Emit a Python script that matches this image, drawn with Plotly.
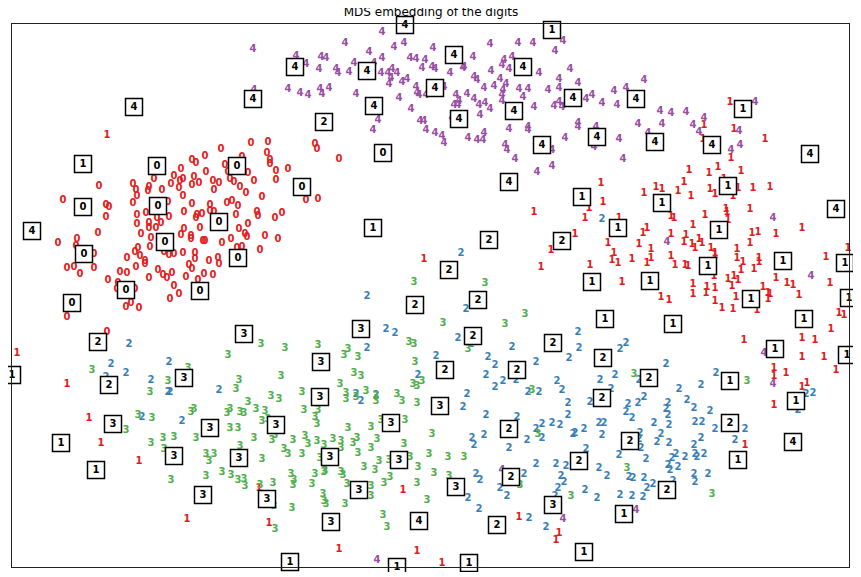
import plotly.graph_objects as go

# MDS coordinates of each digit sample
zero_x = [239, 256, 209, 255, 193, 180, 184, 230, 258, 258, 276, 213, 169, 194, 216, 236, 264, 142, 162, 182,
          201, 207, 218, 222, 242, 264, 87, 121, 124, 136, 137, 125, 150, 159, 168, 171, 167, 180, 187, 202,
          228, 234, 250, 171, 51, 121, 94, 97, 156, 180, 198, 215, 220, 226, 94, 125, 134, 145, 157, 172,
          184, 185, 190, 198, 202, 224, 245, 246, 263, 270, 125, 137, 137, 144, 149, 172, 188, 236, 227, 86,
          129, 139, 169, 179, 179, 191, 193, 210, 219, 233, 235, 253, 266, 46, 65, 64, 126, 138, 123, 152,
          157, 162, 171, 183, 183, 225, 230, 248, 206, 207, 197, 115, 128, 133, 133, 124, 82, 55, 62, 68,
          82, 177, 180, 108, 115, 146, 160, 151, 155, 174, 192, 201, 186, 137, 96, 106, 105, 123, 162, 167,
          158, 119, 114, 127, 55, 95, 303, 305, 327, 294, 306]
zero_y = [424, 425, 418, 414, 411, 407, 404, 410, 407, 403, 398, 402, 398, 395, 395, 394, 396, 388, 391, 390,
          386, 384, 388, 385, 386, 387, 381, 383, 377, 376, 380, 371, 377, 383, 386, 388, 379, 382, 384, 377,
          380, 374, 370, 371, 367, 364, 362, 360, 365, 363, 362, 364, 366, 361, 350, 352, 354, 349, 350, 355,
          349, 352, 353, 356, 355, 352, 355, 351, 349, 354, 343, 344, 339, 339, 344, 338, 339, 343, 338, 334,
          333, 329, 332, 331, 328, 326, 326, 324, 328, 333, 330, 331, 328, 324, 328, 321, 319, 320, 315, 315,
          312, 313, 314, 314, 308, 319, 320, 317, 309, 303, 306, 309, 311, 306, 303, 300, 313, 299, 300, 293,
          299, 302, 298, 295, 294, 297, 294, 292, 289, 290, 293, 292, 287, 289, 287, 284, 278, 278, 281, 273,
          268, 264, 260, 259, 250, 235, 423, 418, 408, 367, 368]

one_x = [95, 5, 55, 77, 89, 127, 175, 257, 247, 391, 327, 405, 430, 412, 522, 539, 529, 563, 507, 547,
         544, 692, 691, 718, 722, 753, 719, 677, 697, 706, 729, 712, 698, 703, 726, 741, 758, 721, 589, 591,
         577, 632, 644, 650, 666, 672, 679, 714, 738, 573, 607, 596, 602, 600, 606, 578, 610, 620, 627, 631,
         635, 639, 639, 635, 659, 659, 663, 659, 662, 672, 674, 673, 676, 681, 680, 683, 687, 690, 693, 699,
         703, 703, 715, 716, 740, 746, 738, 764, 790, 725, 725, 731, 729, 742, 747, 747, 702, 716, 722, 726,
         720, 681, 681, 695, 694, 703, 703, 710, 721, 724, 745, 751, 756, 758, 756, 764, 775, 781, 787, 818,
         814, 836, 827, 832, 819, 649, 657, 732, 790, 803, 790, 812, 824, 762, 762, 774, 790, 795, 762, 733]
one_y = [432, 214, 183, 149, 124, 106, 48, 44, 79, 77, 18, 16, 4, 308, 355, 317, 300, 333, 50, 34,
         27, 442, 428, 465, 438, 428, 409, 397, 394, 400, 396, 388, 378, 373, 379, 379, 380, 371, 384, 365,
         359, 374, 380, 378, 376, 385, 371, 358, 358, 349, 349, 324, 314, 307, 304, 302, 285, 308, 323, 334,
         339, 318, 309, 304, 333, 311, 302, 351, 349, 325, 332, 302, 301, 342, 323, 319, 328, 324, 352, 319,
         314, 312, 355, 347, 334, 335, 324, 333, 339, 318, 309, 305, 297, 298, 309, 305, 291, 288, 291, 287,
         281, 283, 273, 280, 274, 279, 266, 259, 258, 270, 257, 280, 274, 273, 268, 289, 284, 282, 272, 284,
         310, 319, 254, 252, 238, 270, 267, 227, 229, 227, 210, 210, 197, 199, 191, 194, 180, 184, 162, 122]

two_x = [117, 99, 157, 114, 94, 139, 207, 156, 158, 130, 170, 449, 355, 454, 374, 383, 446, 459, 355, 500,
         557, 424, 476, 483, 524, 406, 474, 483, 491, 504, 545, 550, 516, 527, 344, 364, 455, 349, 451, 474,
         505, 556, 556, 524, 530, 540, 548, 530, 561, 460, 462, 472, 515, 497, 464, 468, 512, 488, 495, 456,
         467, 524, 544, 554, 549, 552, 546, 543, 517, 534, 599, 578, 667, 794, 801, 786, 616, 614, 626, 632,
         620, 656, 654, 656, 675, 682, 698, 587, 592, 563, 572, 590, 628, 642, 657, 649, 645, 657, 683, 690,
         689, 682, 703, 733, 723, 574, 607, 629, 627, 634, 660, 664, 673, 683, 685, 692, 656, 658, 666, 587,
         595, 617, 621, 632, 635, 641, 682, 683, 696, 573, 585, 608, 620, 631, 661, 590, 566, 567, 608, 614,
         588, 603, 627, 654, 689, 704]
two_y = [223, 203, 205, 194, 190, 187, 177, 175, 175, 150, 146, 314, 271, 258, 238, 234, 229, 223, 219, 220,
         209, 211, 210, 202, 205, 192, 192, 180, 186, 187, 186, 177, 175, 175, 173, 172, 173, 166, 160, 152,
         150, 164, 152, 138, 143, 144, 142, 129, 133, 129, 122, 132, 127, 119, 93, 87, 93, 79, 71, 69,
         58, 103, 103, 101, 91, 85, 79, 71, 49, 40, 178, 165, 178, 173, 174, 157, 163, 155, 164, 170,
         149, 164, 158, 152, 167, 159, 156, 144, 144, 134, 138, 132, 134, 144, 142, 133, 125, 124, 145, 145,
         129, 122, 138, 138, 127, 118, 112, 119, 128, 108, 109, 113, 110, 113, 110, 113, 102, 97, 100, 99,
         91, 90, 89, 89, 79, 83, 93, 85, 93, 77, 69, 72, 71, 70, 86, 348, 235, 219, 218, 224,
         187, 192, 187, 203, 182, 194]

three_x = [249, 273, 216, 80, 176, 156, 227, 224, 269, 138, 259, 236, 267, 114, 126, 140, 179, 182, 215, 218,
           228, 232, 244, 253, 250, 256, 218, 226, 139, 151, 162, 184, 152, 242, 260, 263, 228, 194, 202, 197,
           250, 272, 276, 159, 194, 210, 219, 226, 232, 233, 248, 261, 262, 263, 402, 473, 513, 431, 493, 456,
           306, 336, 332, 346, 397, 402, 403, 342, 349, 401, 405, 410, 520, 328, 290, 334, 354, 385, 334, 344,
           364, 364, 390, 405, 526, 292, 306, 303, 305, 369, 393, 336, 359, 420, 281, 293, 296, 305, 312, 321,
           329, 329, 341, 345, 359, 365, 392, 290, 308, 346, 367, 377, 398, 417, 436, 452, 406, 352, 363, 279,
           282, 281, 300, 303, 312, 313, 329, 331, 335, 372, 378, 422, 437, 359, 359, 405, 311, 312, 314, 333,
           280, 415, 371, 375, 508, 559, 735, 622, 615, 700]
three_y = [223, 219, 212, 197, 199, 186, 187, 178, 191, 175, 171, 165, 168, 137, 152, 149, 155, 158, 154, 158,
           155, 154, 158, 156, 146, 148, 139, 139, 124, 129, 130, 129, 118, 129, 127, 132, 121, 113, 113, 106,
           108, 118, 113, 87, 91, 95, 92, 87, 88, 81, 82, 84, 61, 38, 285, 284, 253, 244, 243, 218,
           222, 218, 212, 210, 225, 223, 205, 194, 191, 183, 181, 186, 177, 183, 175, 174, 176, 173, 168, 170,
           171, 166, 166, 164, 133, 157, 157, 150, 143, 147, 147, 139, 140, 133, 127, 131, 123, 126, 122, 128,
           126, 119, 124, 129, 119, 128, 123, 113, 109, 114, 106, 107, 110, 113, 110, 110, 100, 100, 97, 93,
           87, 82, 83, 93, 95, 96, 95, 92, 83, 84, 90, 94, 91, 81, 71, 84, 73, 66, 63, 63,
           59, 67, 52, 40, 82, 71, 186, 193, 99, 73]

four_x = [241, 242, 276, 423, 370, 333, 382, 392, 421, 478, 506, 521, 551, 543, 284, 294, 309, 314, 307, 324,
          326, 337, 342, 357, 362, 370, 369, 376, 380, 385, 379, 377, 390, 395, 398, 404, 413, 410, 420, 423,
          461, 438, 451, 452, 462, 465, 479, 492, 490, 500, 497, 527, 558, 488, 288, 296, 308, 310, 317, 344,
          366, 361, 387, 404, 405, 407, 414, 432, 399, 408, 412, 414, 423, 430, 432, 444, 442, 446, 447, 455,
          440, 462, 467, 473, 478, 468, 472, 482, 491, 490, 490, 494, 507, 516, 511, 536, 547, 547, 522, 542,
          547, 550, 456, 465, 471, 472, 497, 516, 516, 540, 493, 495, 503, 553, 525, 540, 566, 574, 580, 590,
          602, 614, 632, 605, 648, 659, 674, 692, 681, 687, 626, 650, 566, 566, 584, 607, 582, 636, 611, 743,
          727, 719, 728, 655, 761, 799, 752, 761, 551, 624, 490, 365]
four_y = [518, 477, 478, 546, 535, 524, 520, 524, 519, 523, 524, 524, 526, 516, 511, 503, 510, 509, 498, 498,
          494, 495, 504, 515, 504, 509, 494, 494, 498, 494, 489, 483, 485, 488, 509, 508, 507, 499, 500, 498,
          510, 494, 499, 500, 490, 487, 496, 507, 502, 510, 498, 494, 498, 488, 474, 472, 478, 473, 479, 473,
          447, 437, 469, 480, 474, 472, 472, 480, 458, 446, 446, 437, 434, 431, 424, 472, 462, 462, 466, 473,
          449, 468, 462, 464, 458, 452, 479, 481, 477, 472, 466, 483, 478, 478, 470, 477, 479, 488, 460, 461,
          465, 460, 429, 427, 427, 434, 438, 440, 437, 417, 422, 417, 408, 429, 395, 401, 484, 468, 472, 464,
          476, 479, 487, 462, 456, 454, 455, 449, 442, 435, 443, 443, 444, 440, 440, 428, 420, 434, 408, 465,
          436, 417, 422, 325, 349, 291, 214, 183, 48, 57, 97, 7]

# samples shown as thumbnails, and the digit drawn in each thumbnail
thumb_x = [393, 540, 283, 355, 442, 511, 241, 122, 362, 423, 447, 502, 561, 624, 312, 731, 585, 643, 700, 530,
           798, 371, 497, 290, 71, 145, 225, 71, 146, 207, 20, 153, 72, 226, 114, 188, 60, 570, 650, 716,
           824, 361, 606, 707, 477, 550, 437, 696, 771, 833, 580, 638, 466, 403, 739, 837, 593, 661, 792, 232,
           349, 86, 461, 541, 763, 835, 591, 309, 433, 505, 0, 172, 97, 637, 718, 308, 590, 784, 428, 101,
           198, 264, 379, 497, 718, 618, 781, 49, 162, 227, 318, 387, 567, 726, 84, 499, 444, 347, 655, 191,
           255, 541, 612, 319, 407, 485, 572, 278, 385, 457]
thumb_y = [542, 537, 500, 496, 512, 500, 468, 460, 461, 479, 448, 456, 469, 468, 445, 458, 430, 425, 422, 422,
           413, 414, 385, 380, 403, 401, 401, 360, 361, 345, 336, 325, 313, 309, 277, 276, 264, 370, 364, 381,
           358, 339, 339, 337, 327, 326, 297, 301, 306, 304, 285, 286, 267, 262, 268, 269, 248, 243, 248, 233,
           238, 225, 231, 224, 218, 212, 209, 205, 197, 197, 192, 189, 182, 189, 186, 170, 169, 166, 161, 143,
           139, 142, 144, 138, 144, 126, 125, 124, 111, 109, 110, 107, 106, 107, 97, 90, 80, 77, 77, 72,
           68, 62, 53, 45, 46, 42, 15, 5, 0, 4]
thumb_digit = ["4", "1", "4", "4", "4", "4", "4", "4", "4", "4", "4", "4", "4", "4", "2", "1", "4", "4", "4", "4",
               "4", "0", "4", "0", "1", "0", "0", "0", "0", "0", "4", "0", "0", "0", "0", "0", "0", "1", "1", "1",
               "4", "1", "1", "1", "2", "2", "2", "1", "1", "1", "1", "1", "2", "2", "1", "1", "1", "1", "1", "3",
               "3", "2", "2", "2", "1", "1", "2", "3", "2", "2", "1", "3", "2", "2", "1", "3", "2", "1", "3", "3",
               "3", "3", "3", "2", "2", "2", "4", "1", "3", "3", "3", "3", "2", "1", "1", "2", "3", "3", "2", "3",
               "3", "3", "1", "3", "4", "2", "1", "1", "1", "1"]

# Set1 colours as used per digit
colors = ["rgb(228,26,28)", "rgb(228,26,28)", "rgb(55,126,184)", "rgb(77,175,74)", "rgb(152,78,163)"]

series = [(zero_x, zero_y), (one_x, one_y), (two_x, two_y), (three_x, three_y), (four_x, four_y)]

fig = go.Figure()

for digit, (xs, ys) in enumerate(series):
    fig.add_trace(go.Scatter(
        x=xs, y=ys,
        mode="text",
        text=[str(digit)] * len(xs),
        textposition="middle center",
        textfont=dict(family="DejaVu Sans", size=10, color=colors[digit], weight="bold"),
        cliponaxis=False,
        hoverinfo="skip",
        showlegend=False,
    ))

# thumbnails drawn on top of the labels
fig.add_trace(go.Scatter(
    x=thumb_x, y=thumb_y,
    mode="markers+text",
    text=thumb_digit,
    textposition="middle center",
    textfont=dict(family="DejaVu Sans", size=10, color="black", weight="bold"),
    marker=dict(symbol="square", size=17, color="white", line=dict(color="black", width=1.5)),
    cliponaxis=False,
    hoverinfo="skip",
    showlegend=False,
))

# page body adds a small offset, so the margins are trimmed to match
fig.update_layout(
    width=846, height=564,
    margin=dict(l=4, r=5, t=16, b=5),
    paper_bgcolor="white",
    plot_bgcolor="white",
    title=dict(text="MDS embedding of the digits", x=0.5, xanchor="center",
               y=1.0, yanchor="top", pad=dict(t=0),
               font=dict(family="DejaVu Sans", size=12, color="black")),
)
fig.update_xaxes(range=[0, 837], showticklabels=False, showgrid=False, zeroline=False,
                 showline=True, mirror=True, linecolor="#222", linewidth=1, ticks="")
fig.update_yaxes(range=[0, 543], showticklabels=False, showgrid=False, zeroline=False,
                 showline=True, mirror=True, linecolor="#222", linewidth=1, ticks="")

fig.write_html("out.html")
